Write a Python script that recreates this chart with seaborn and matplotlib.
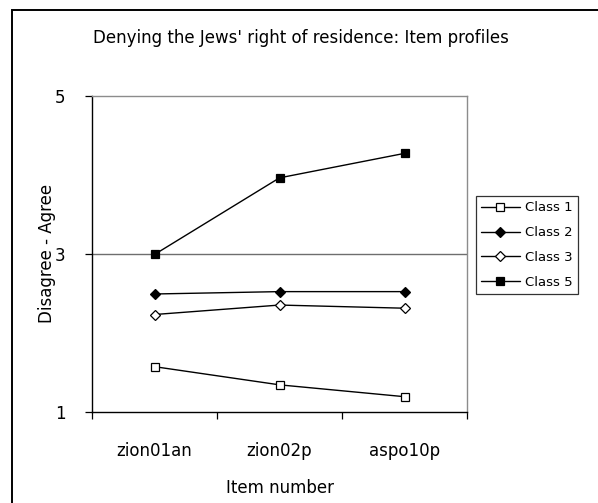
import matplotlib
matplotlib.use("Agg")
import matplotlib.pyplot as plt
import seaborn as sns
import pandas as pd
from matplotlib.patches import Rectangle
from matplotlib.ticker import FixedLocator

items = ["zion01an", "zion02p", "aspo10p"]
class1 = [1.57, 1.34, 1.19]
class2 = [2.49, 2.52, 2.52]
class3 = [2.23, 2.35, 2.31]
class5 = [2.99, 3.96, 4.27]
class_names = ["Class 1", "Class 2", "Class 3", "Class 5"]
yticks = [1, 3, 5]

title = "Denying the Jews' right of residence: Item profiles"
xlabel = "Item number"
ylabel = "Disagree - Agree"

sns.set_theme(style="white")
plt.rcParams["font.family"] = ["DejaVu Sans"]
plt.rcParams["text.color"] = "black"
plt.rcParams["axes.labelcolor"] = "black"
plt.rcParams["xtick.color"] = "black"
plt.rcParams["ytick.color"] = "black"
FS = 12

series = [class1, class2, class3, class5]
rows = []
for name, vals in zip(class_names, series):
    for i, (it, v) in enumerate(zip(items, vals)):
        rows.append({"item": it, "pos": i, "value": v, "cls": name})
df = pd.DataFrame(rows)

styles = {
    "Class 1": dict(marker="s", markerfacecolor="white", markersize=6),
    "Class 2": dict(marker="D", markerfacecolor="black", markersize=5.5),
    "Class 3": dict(marker="D", markerfacecolor="white", markersize=5.5),
    "Class 5": dict(marker="s", markerfacecolor="black", markersize=6),
}

fig = plt.figure(figsize=(5.98, 5.03), dpi=100)
fig.patch.set_facecolor("white")
ax = fig.add_axes([92 / 598, 1 - 411.7 / 503, (467 - 92) / 598, (411.7 - 95.7) / 503])
ax.set_facecolor("white")

for name in class_names:
    sub = df[df["cls"] == name]
    sns.lineplot(data=sub, x="pos", y="value", ax=ax, color="black", linewidth=1.0,
                 markeredgecolor="black", markeredgewidth=0.9, label=name,
                 legend=False, **styles[name])

ax.set_xlim(-0.5, len(items) - 0.5)
ax.set_ylim(1, 5)
ax.set_yticks(yticks)
ax.set_yticklabels([str(t) for t in yticks], fontsize=FS)
ax.set_xticks(range(len(items)))
ax.set_xticklabels(items, fontsize=FS)
ax.xaxis.set_minor_locator(FixedLocator([i - 0.5 for i in range(len(items) + 1)]))
ax.tick_params(axis="x", which="major", length=0, pad=22)
ax.tick_params(axis="x", which="minor", length=5, width=0.9, color="black", direction="out", bottom=True)
ax.tick_params(axis="y", which="major", length=5, width=0.9, color="black", direction="out", left=True, pad=14)
ax.axhline(3, color="#6e6e6e", linewidth=1.0, zorder=0.5)

for side in ["left", "bottom"]:
    ax.spines[side].set_color("black")
    ax.spines[side].set_linewidth(1.0)
for side in ["top", "right"]:
    ax.spines[side].set_color("#8c8c8c")
    ax.spines[side].set_linewidth(1.0)

ax.set_xlabel(xlabel, fontsize=FS)
ax.set_ylabel(ylabel, fontsize=FS)
ax.yaxis.set_label_coords((56 - 92) / 375, 0.5)
ax.xaxis.set_label_coords(0.5, (411.7 - 479) / 316)
ax.grid(False)

handles = ax.get_lines()[:4]
leg = fig.legend(handles=handles, labels=class_names, loc="upper left",
                 bbox_to_anchor=(476 / 598, 1 - 196 / 503), borderaxespad=0,
                 frameon=True, fancybox=False, edgecolor="black", fontsize=9.5,
                 handlelength=2.9, labelspacing=0.9, handletextpad=0.4,
                 borderpad=0.4)
leg.get_frame().set_linewidth(0.9)
for t in leg.get_texts():
    t.set_color("black")

fig.text(301 / 598, 1 - 43 / 503, title, ha="center", va="baseline", fontsize=FS)

fig.add_artist(Rectangle((12 / 598, -0.1), 1.2, 1.1 - 10 / 503, transform=fig.transFigure,
                         fill=False, edgecolor="black", linewidth=1.4))

fig.savefig("out.png", dpi=100, facecolor="white")
